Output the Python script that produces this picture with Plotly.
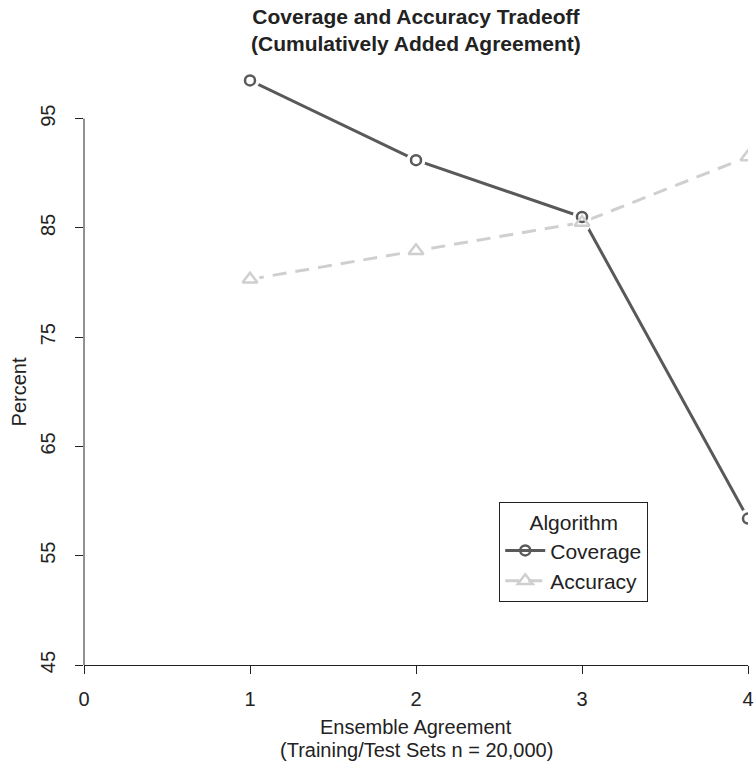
import plotly.graph_objects as go

agreement = [1, 2, 3, 4]
coverage = [98.5, 91.2, 86.0, 58.4]
accuracy = [80.3, 82.9, 85.5, 91.5]
y_ticks = [45, 55, 65, 75, 85, 95]
x_ticks = [0, 1, 2, 3, 4]
title_lines = ["Coverage and Accuracy Tradeoff", "(Cumulatively Added Agreement)"]
x_title_lines = ["Ensemble Agreement", "(Training/Test Sets n = 20,000)"]
y_title = "Percent"

cov_color = "#595959"
acc_color = "#cfcfcf"
FONT = "Liberation Sans, Arial, sans-serif"
INK = "#222222"

TOP, BOT, LEFT = 64, 665, 84
PH = BOT - TOP

fig = go.Figure()
fig.add_trace(go.Scatter(x=agreement, y=coverage, name="Coverage", mode="lines+markers",
                         line=dict(color=cov_color, width=3),
                         marker=dict(symbol="circle-open", size=10, color=cov_color, line=dict(width=2.5))))
fig.add_trace(go.Scatter(x=agreement, y=accuracy, name="Accuracy", mode="lines+markers",
                         line=dict(color=acc_color, width=3, dash="14px,9px"),
                         marker=dict(symbol="triangle-up-open", size=13, color=acc_color, line=dict(width=2.5))))
for ys in (coverage, accuracy):
    fig.add_trace(go.Scatter(x=agreement, y=ys, mode="markers", showlegend=False, hoverinfo="skip",
                             marker=dict(symbol="circle", size=19, color="white", line=dict(width=0))))
fig.add_trace(go.Scatter(x=agreement, y=coverage, mode="markers", showlegend=False,
                         marker=dict(symbol="circle-open", size=10, color=cov_color, line=dict(width=2.5))))
fig.add_trace(go.Scatter(x=agreement, y=accuracy, mode="markers", showlegend=False,
                         marker=dict(symbol="triangle-up-open", size=13, color=acc_color, line=dict(width=2.5))))

fig.add_shape(type="line", xref="paper", yref="y", x0=0, x1=0, y0=y_ticks[0], y1=y_ticks[-1],
              line=dict(color=INK, width=1))

fig.add_annotation(text="<b>%s</b>" % "<br>".join(title_lines), xref="paper", yref="paper",
                   x=0.5, xanchor="center", y=1 + (TOP - 30) / PH, yanchor="middle",
                   showarrow=False, font=dict(family=FONT, size=21, color=INK))
for i, t in enumerate(x_title_lines):
    fig.add_annotation(text=t, xref="paper", yref="paper", x=0.5, xanchor="center",
                       y=-(727 + 23 * i - BOT) / PH, yanchor="middle", showarrow=False,
                       font=dict(family=FONT, size=20, color=INK))
fig.add_annotation(text=y_title, xref="paper", yref="y", x=-(LEFT - 18) / 670.0, xanchor="center",
                   y=70, yanchor="middle", textangle=-90, showarrow=False,
                   font=dict(family=FONT, size=20, color=INK))

fig.update_layout(
    width=754, height=767,
    margin=dict(l=LEFT, r=0, t=TOP, b=767 - BOT),
    paper_bgcolor="white", plot_bgcolor="white",
    font=dict(family=FONT, size=20, color=INK),
    xaxis=dict(range=[0, 4], tickvals=x_ticks, ticktext=[str(v) for v in x_ticks],
               ticks="outside", ticklen=8, tickcolor=INK, showline=True, linecolor=INK,
               linewidth=1, showgrid=False, zeroline=False, tickfont=dict(size=20),
               ticklabelstandoff=8, ticklabeloverflow="allow"),
    yaxis=dict(range=[45, 100], tickvals=y_ticks, ticktext=[str(v) for v in y_ticks],
               tickangle=-90, ticks="outside", ticklen=8, tickcolor=INK, tickfont=dict(size=20),
               showline=False, showgrid=False, zeroline=False, ticklabelstandoff=12),
    legend=dict(title=dict(text="Algorithm", side="top center", font=dict(size=21)),
                x=(503 - LEFT) / 670.0, xanchor="left",
                y=(BOT - 602) / PH, yanchor="bottom", bgcolor="white", bordercolor=INK,
                borderwidth=1, font=dict(size=21), itemwidth=40),
)

fig.write_html(
    "out.html",
    post_script=("document.body.style.margin='0px';"
                 "document.body.style.overflow='hidden';"
                 "document.documentElement.style.overflow='hidden';"),
    config={"displayModeBar": False},
)
